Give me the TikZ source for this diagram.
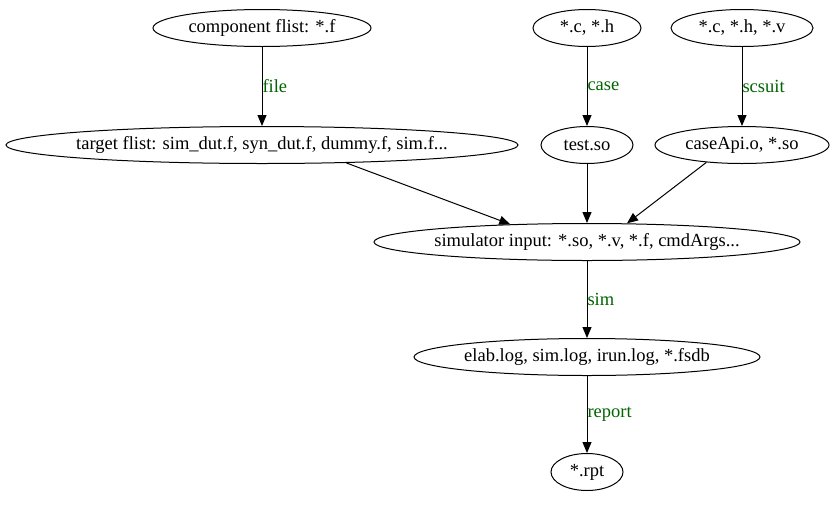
\documentclass[tikz,border=0pt]{standalone}
\usepackage{fontspec}
\setmainfont{Liberation Serif}
\usetikzlibrary{arrows.meta,shapes.geometric}
\definecolor{lgreen}{RGB}{0,100,0}
\tikzset{
  ell/.style={draw,ellipse,line width=1pt,inner xsep=-6pt,inner ysep=0pt,minimum height=37pt,font=\fontsize{18.5}{21}\selectfont},
  arr/.style={-{Triangle[length=11pt,width=9pt]},line width=1pt},
  lbl/.style={anchor=west,inner sep=0pt,text=lgreen,font=\fontsize{18.5}{21}\selectfont},
}
\begin{document}
\begin{tikzpicture}[x=1pt,y=-1pt]
  \useasboundingbox (0,0) rectangle (836,504);
  % sources
  \node[ell,minimum width=218pt] (comp) at (262,28) {component flist: *.f};
  \node[ell,minimum width=108pt] (srch) at (587,28) {*.c, *.h};
  \node[ell,minimum width=142pt] (srcv) at (742,28) {*.c, *.h, *.v};
  % built inputs
  \node[ell,minimum width=512pt] (tgt) at (262,145) {target flist: sim\_dut.f, syn\_dut.f, dummy.f, sim.f...};
  \node[ell,minimum width=92pt] (test) at (587,145) {test.so};
  \node[ell,minimum width=174pt] (capi) at (742,145) {caseApi.o, *.so};
  % simulation
  \node[ell,minimum width=426pt] (sim) at (587,242) {simulator input: *.so, *.v, *.f, cmdArgs...};
  \node[ell,minimum width=346pt] (logs) at (587,357) {elab.log, sim.log, irun.log, *.fsdb};
  \node[ell,minimum width=72pt] (rpt) at (587,472) {*.rpt};
  \draw[arr] (comp) -- node[lbl] {file} (tgt);
  \draw[arr] (srch) -- node[lbl] {case} (test);
  \draw[arr] (srcv) -- node[lbl] {scsuit} (capi);
  \draw[arr] (tgt.-12) -- (sim.167);
  \draw[arr] (test) -- (sim);
  \draw[arr] (capi.206) -- (sim.25);
  \draw[arr] (sim) -- node[lbl] {sim} (logs);
  \draw[arr] (logs) -- node[lbl] {report} (rpt);
\end{tikzpicture}
\end{document}
